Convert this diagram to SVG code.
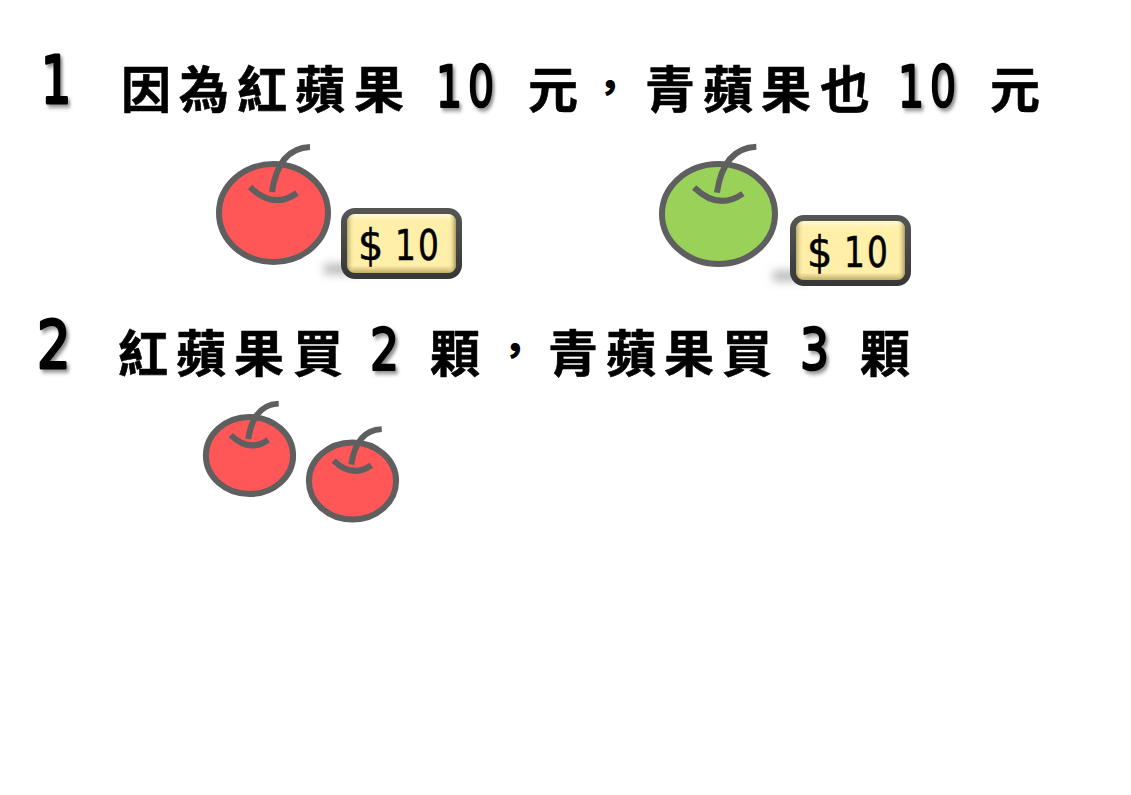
<svg xmlns="http://www.w3.org/2000/svg" width="1131" height="795" viewBox="0 0 1131 795">
<style>
.t{font-family:"Noto Sans CJK TC","Noto Sans CJK SC",sans-serif;font-weight:700;font-size:50px;fill:#000;stroke:#000;stroke-width:.6;stroke-linejoin:round}
.c{font-family:"Noto Sans CJK TC","Noto Sans CJK SC",sans-serif;font-weight:900;font-size:40px;fill:#000}
.d{font-family:"DejaVu Sans",sans-serif;font-size:57px;fill:#000;stroke:#000;stroke-width:2.4;stroke-linejoin:round;filter:url(#ds)}
.n{font-family:"DejaVu Sans",sans-serif;font-size:66px;fill:#000;stroke:#000;stroke-width:3;stroke-linejoin:round;filter:url(#ds)}
.p{font-family:"DejaVu Sans",sans-serif;font-size:42px;fill:#000;stroke:#000;stroke-width:.6}
.a{stroke:#5f5f5f;stroke-width:6;vector-effect:non-scaling-stroke}
.l{fill:none}
</style>
<defs>
<filter id="ds" x="-30%" y="-30%" width="170%" height="170%"><feDropShadow dx="3" dy="3" stdDeviation="2" flood-color="#000" flood-opacity=".45"/></filter>
<filter id="b" x="-60%" y="-100%" width="220%" height="300%"><feGaussianBlur stdDeviation="5"/></filter>
<linearGradient id="gv" x1="0" y1="0" x2="0" y2="1"><stop offset="0" stop-color="#fffde8"/><stop offset=".16" stop-color="#ffefa8"/><stop offset=".84" stop-color="#ffefa8"/><stop offset="1" stop-color="#a89050"/></linearGradient>
<linearGradient id="gh" x1="0" y1="0" x2="1" y2="0"><stop offset="0" stop-color="#8a7a40" stop-opacity=".6"/><stop offset=".07" stop-color="#ffefa8" stop-opacity="0"/><stop offset=".93" stop-color="#ffefa8" stop-opacity="0"/><stop offset="1" stop-color="#8a7a40" stop-opacity=".75"/></linearGradient>
<linearGradient id="gs" x1="0" y1="0" x2="0" y2="1"><stop offset="0" stop-color="#555"/><stop offset="1" stop-color="#383838"/></linearGradient>
<g id="apple">
<ellipse class="a" cx="0" cy="0" rx="54.5" ry="49"/>
<path class="a l" d="M-1.5-21C2-45 12-65 36.5-66"/>
<path class="a l" d="M-23.5-26Q0-3 23.5-20"/>
</g>
<g id="tag">
<rect x="324" y="264" width="34" height="10" fill="#b5b5b5" filter="url(#b)"/>
<rect x="344" y="211" width="115" height="65" rx="11" fill="url(#gv)" stroke="url(#gs)" stroke-width="6"/>
<rect x="347" y="214" width="109" height="59" rx="8" fill="url(#gh)"/>
<text class="p" transform="translate(358 260) scale(.95 1)">$</text>
<text class="p" transform="translate(395 260) scale(.78 1)">1</text>
<text class="p" transform="translate(418 260) scale(.78 1)">0</text>
</g>
</defs>
<g id="line1">
<text class="n" transform="translate(41 103) scale(.72 1)">1</text>
<text class="t" x="121 179 237 295 354" y="108">因為紅蘋果</text>
<text class="d" transform="translate(436 107) scale(.72 1)">1</text>
<text class="d" transform="translate(468 107) scale(.72 1)">0</text>
<text class="t" x="528" y="108">元</text>
<text class="c" x="590" y="102">，</text>
<text class="t" x="645 703 761 820" y="108">青蘋果也</text>
<text class="d" transform="translate(898 107) scale(.72 1)">1</text>
<text class="d" transform="translate(930 107) scale(.72 1)">0</text>
<text class="t" x="990" y="108">元</text>
</g>
<g id="apple-red-1" fill="#ff5757"><use href="#apple" transform="translate(273.5 213)"/></g>
<g id="price-1"><use href="#tag"/></g>
<g id="apple-green" fill="#99d159"><use href="#apple" transform="translate(718.5 214) scale(1.037 1.02)"/></g>
<g id="price-2"><use href="#tag" transform="translate(449 7)"/></g>
<g id="line2">
<text class="n" transform="translate(37 368) scale(.8 1)">2</text>
<text class="t" x="118 176 234 293" y="372">紅蘋果買</text>
<text class="d" transform="translate(370 370) scale(.8 1)">2</text>
<text class="t" x="430" y="372">顆</text>
<text class="c" x="495" y="365">，</text>
<text class="t" x="548 606 664 722" y="372">青蘋果買</text>
<text class="d" transform="translate(800 370) scale(.8 1)">3</text>
<text class="t" x="860" y="372">顆</text>
</g>
<g id="apple-red-2" fill="#ff5757"><use href="#apple" transform="translate(249.5 455.5) scale(.8 .786)"/></g>
<g id="apple-red-3" fill="#ff5757"><use href="#apple" transform="translate(352.5 481) scale(.8 .786)"/></g>
</svg>
